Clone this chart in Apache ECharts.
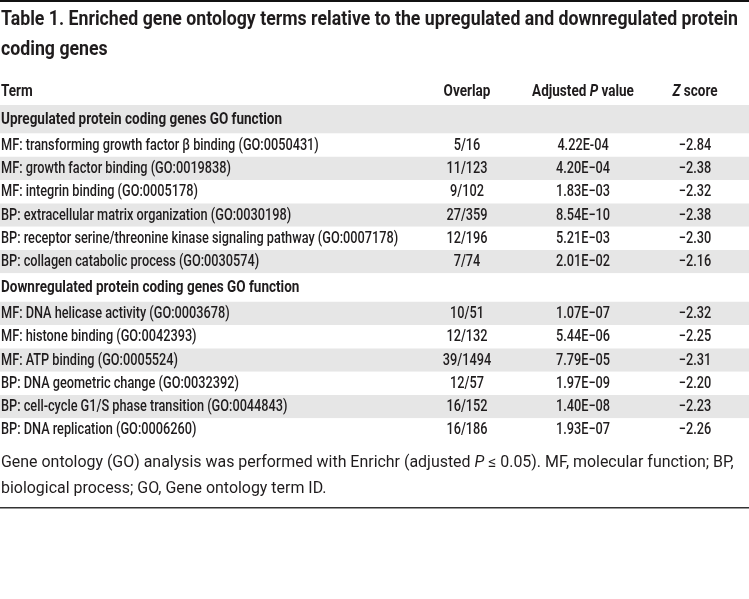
<!DOCTYPE html>
<html>
<head>
<meta charset="utf-8">
<script src="https://cdn.jsdelivr.net/npm/echarts@6/dist/echarts.min.js"></script>
<style>
  html, body { margin: 0; padding: 0; background: #fff; }
  #main { width: 749px; height: 599px; }
</style>
</head>
<body>
<div id="main"></div>
<script>
// 表格数据
const sectionLabels = ['Upregulated protein coding genes GO function', 'Downregulated protein coding genes GO function']
const upTerms = [
  'MF: transforming growth factor β binding (GO:0050431)',
  'MF: growth factor binding (GO:0019838)',
  'MF: integrin binding (GO:0005178)',
  'BP: extracellular matrix organization (GO:0030198)',
  'BP: receptor serine/threonine kinase signaling pathway (GO:0007178)',
  'BP: collagen catabolic process (GO:0030574)'
]
const upOverlap = ['5/16', '11/123', '9/102', '27/359', '12/196', '7/74']
const upPValue = ['4.22E-04', '4.20E−04', '1.83E−03', '8.54E−10', '5.21E−03', '2.01E−02']
const upZScore = ['−2.84', '−2.38', '−2.32', '−2.38', '−2.30', '−2.16']
const downTerms = [
  'MF: DNA helicase activity (GO:0003678)',
  'MF: histone binding (GO:0042393)',
  'MF: ATP binding (GO:0005524)',
  'BP: DNA geometric change (GO:0032392)',
  'BP: cell-cycle G1/S phase transition (GO:0044843)',
  'BP: DNA replication (GO:0006260)'
]
const downOverlap = ['10/51', '12/132', '39/1494', '12/57', '16/152', '16/186']
const downPValue = ['1.07E−07', '5.44E−06', '7.79E−05', '1.97E−09', '1.40E−08', '1.93E−07']
const downZScore = ['−2.32', '−2.25', '−2.31', '−2.20', '−2.23', '−2.26']

const titleLines = [
  'Table 1. Enriched gene ontology terms relative to the upregulated and downregulated protein',
  'coding genes'
]
const footLine1 = 'Gene ontology (GO) analysis was performed with Enrichr (adjusted P ≤ 0.05). MF, molecular function; BP,'

const FONT = "Roboto, 'DejaVu Sans', sans-serif"
const INK = '#1f1c1d'

// 字体横向压缩（参考图用的是窄体字）
const measureCtx = document.createElement('canvas').getContext('2d')
const fit = (text, font, target) => {
  measureCtx.font = font
  return target / measureCtx.measureText(text).width
}
const BODY_FONT = '500 16px ' + FONT
const FOOT_FONT = '16px ' + FONT
const BOLD_FONT = 'bold 16px ' + FONT
const TITLE_FONT = 'bold 21px ' + FONT
const BODY_S = fit('MF: growth factor binding (GO:0019838)', BODY_FONT, 230)
const BOLD_S = fit(sectionLabels[0], BOLD_FONT, 281)
const TITLE_S = fit(titleLines[0], TITLE_FONT, 737)
const FOOT_S = fit(footLine1, FOOT_FONT, 733)

// 行：分组标题 + 数据行
const rows = []
const addGroup = (label, terms, overlap, pv, z) => {
  rows.push({ kind: 'section', label })
  terms.forEach((t, i) => rows.push({ kind: 'data', cells: [t, overlap[i], pv[i], z[i]] }))
}
addGroup(sectionLabels[0], upTerms, upOverlap, upPValue, upZScore)
addGroup(sectionLabels[1], downTerms, downOverlap, downPValue, downZScore)

// 行布局
const tableTop = 105
const dataH = 23.3
const sectionH = 28.5
const rowTop = []
let acc = tableTop
rows.forEach(r => { rowTop.push(acc); acc += r.kind === 'section' ? sectionH : dataH })
const tableBottom = acc

const colX = [1, 467, 583, 695]

const chart = echarts.init(document.getElementById('main'))

const renderRow = (params, api) => {
  const i = api.value(0)
  const r = rows[i]
  const h = r.kind === 'section' ? sectionH : dataH
  const p0 = api.coord([0, rowTop[i]])
  const p1 = api.coord([749, rowTop[i] + h])
  const cy = (p0[1] + p1[1]) / 2 + 0.5
  const children = [{
    type: 'rect',
    shape: { x: p0[0], y: p0[1], width: p1[0] - p0[0], height: p1[1] - p0[1] },
    style: { fill: i % 2 === 0 ? '#e6e6e6' : '#ffffff' }
  }]
  if (r.kind === 'section') {
    children.push({
      type: 'text', x: api.coord([colX[0], 0])[0], y: cy, scaleX: BOLD_S,
      style: { text: r.label, x: 0, y: 0, fill: INK, font: BOLD_FONT, align: 'left', verticalAlign: 'middle' }
    })
  } else {
    r.cells.forEach((c, k) => {
      children.push({
        type: 'text', x: api.coord([colX[k], 0])[0], y: cy, scaleX: BODY_S,
        style: { text: c, x: 0, y: 0, fill: INK, font: BODY_FONT, align: k === 0 ? 'left' : 'center', verticalAlign: 'middle' }
      })
    })
  }
  return { type: 'group', children }
}

const headRich = {
  b: { font: BOLD_FONT, fill: INK },
  bi: { font: 'italic ' + BOLD_FONT, fill: INK }
}
const headerY = 92

chart.setOption({
  animation: false,
  grid: { left: 0, right: 0, top: 0, bottom: 0 },
  xAxis: { type: 'value', min: 0, max: 749, show: false },
  yAxis: { type: 'value', min: 0, max: 599, inverse: true, show: false },
  series: [{
    type: 'custom',
    renderItem: renderRow,
    data: rows.map((r, i) => [i]),
    silent: true
  }],
  graphic: [
    { type: 'rect', shape: { x: 0, y: 0, width: 749, height: 2 }, style: { fill: '#111' } },
    {
      type: 'text', x: 1, y: 5, scaleX: TITLE_S,
      style: {
        text: titleLines.join('\n'),
        font: TITLE_FONT, fill: INK, lineHeight: 30, verticalAlign: 'top'
      }
    },
    {
      type: 'text', x: colX[0], y: headerY, scaleX: BOLD_S,
      style: { text: 'Term', font: BOLD_FONT, fill: INK, verticalAlign: 'middle' }
    },
    {
      type: 'text', x: colX[1], y: headerY, scaleX: BOLD_S,
      style: { text: 'Overlap', font: BOLD_FONT, fill: INK, align: 'center', verticalAlign: 'middle' }
    },
    {
      type: 'text', x: colX[2], y: headerY, scaleX: BOLD_S,
      style: { text: '{b|Adjusted }{bi|P}{b| value}', align: 'center', verticalAlign: 'middle', rich: headRich }
    },
    {
      type: 'text', x: colX[3], y: headerY, scaleX: BOLD_S,
      style: { text: '{bi|Z}{b| score}', align: 'center', verticalAlign: 'middle', rich: headRich }
    },
    {
      type: 'text', x: 1, y: tableBottom + 8, scaleX: FOOT_S,
      style: {
        text: '{n|Gene ontology (GO) analysis was performed with Enrichr (adjusted }{i|P}{n| ≤ 0.05). MF, molecular function; BP,}\n{n|biological process; GO, Gene ontology term ID.}',
        rich: {
          n: { font: FOOT_FONT, fill: INK, lineHeight: 26 },
          i: { font: 'italic ' + FOOT_FONT, fill: INK, lineHeight: 26 }
        }
      }
    },
    { type: 'rect', shape: { x: 0, y: 507, width: 749, height: 1.5 }, style: { fill: '#333' } }
  ]
})
</script>
</body>
</html>
